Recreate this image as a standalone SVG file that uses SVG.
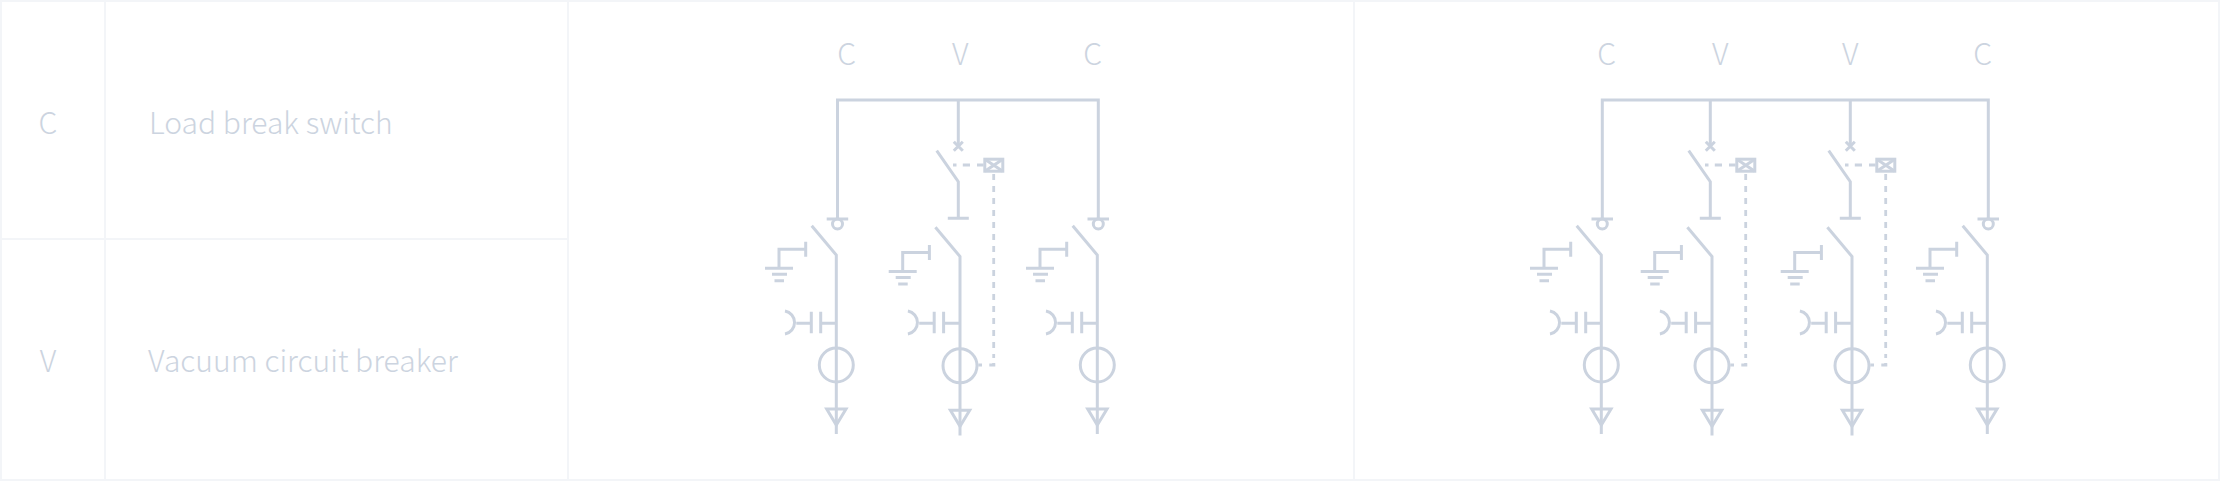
<svg xmlns="http://www.w3.org/2000/svg" width="2220" height="481" viewBox="0 0 2220 481">
<style>
.t{font-family:"Noto Sans CJK SC","Noto Sans",sans-serif;font-weight:300;font-size:30px;fill:#ccd4e0}
.m{text-anchor:middle}
.g{stroke:#f3f5f8;stroke-width:2;fill:none}
.l{stroke:#cbd3df;stroke-width:3;fill:none}
.d{stroke:#cbd3df;stroke-width:2.8;fill:none;stroke-dasharray:6 6}
</style>
<defs>
<g id="blade" class="l"><path d="M-24.6 225.7L0 255V434"/></g>
<g id="earth" class="l"><path d="M-30.6 241.7V256.7M-30.6 249.3H-57.3V268.3M-71.3 268.3H-43.3M-64.3 274.3H-49.3M-61.8 280.7H-52.3"/></g>
<g id="cap" class="l"><path d="M0 323.3H-15.6M-15.6 311.7V333.3M-25 311.7V333.3M-25 323.3H-40M-51.3 311A11.7 11.7 0 0 1 -51.3 334"/></g>
<g id="ct" class="l"><circle cx="0" cy="365" r="17"/></g>
<g id="tri" class="l"><path d="M-9.6 409H9.7L0 425Z"/></g>
<g id="term" class="l"><path d="M-10.8 219H10.7"/><circle cx="0" cy="224" r="5"/></g>
<g id="vcb" class="l"><path d="M-4.5 141.7L4.5 150.7M4.5 141.7L-4.5 150.7M-21.6 150.7L0 181.7V218.3M-10.5 218.3H10.5"/></g>
<g id="coil" class="l"><rect x="26.5" y="159.2" width="18" height="12"/><path d="M26.5 159.2L44.5 171.2M44.5 159.2L26.5 171.2"/></g>
<g id="cfeed"><use href="#blade"/><use href="#earth"/><use href="#cap"/><use href="#ct"/><use href="#tri"/></g>
<g id="vfeed"><use href="#blade" transform="translate(0 1.5)"/><use href="#earth" transform="translate(0 3.2)"/><use href="#cap" transform="translate(-0.8 0)"/><use href="#ct" transform="translate(0 0.8)"/><use href="#tri" transform="translate(0 1.3)"/></g>
<g id="vctl"><path class="l" d="M-5.3 165H-1.8M4.5 165H11.7M18.7 165H25.3M37 365H31M23.7 365H20M35.4 366.5V363"/><path class="d" d="M35.4 174V358"/></g>
</defs>
<g id="grid" class="g">
<rect x="1" y="1" width="2218" height="479"/>
<path d="M105 1V480M568 1V480M1354 1V480M1 239H568"/>
</g>
<g id="legend">
<text class="t m" x="48" y="134">C</text>
<text class="t" x="149" y="134">Load break switch</text>
<text class="t m" x="48" y="372">V</text>
<text class="t" x="148" y="372">Vacuum circuit breaker</text>
</g>
<g id="connectors">
<path class="l" d="M837.5 219V100H1098.3V219"/>
<path class="l" d="M958.3 100V146"/>
<path class="l" d="M1602.3 219V100H1988.3V219"/>
<path class="l" d="M1710.3 100V146M1850.3 100V146"/>
<use href="#vctl" transform="translate(958.3 0)"/>
<use href="#vctl" transform="translate(1710.3 0)"/>
<use href="#vctl" transform="translate(1850.3 0)"/>
</g>
<g id="a-labels">
<text class="t m" x="846.7" y="65">C</text>
<text class="t m" x="960.3" y="65">V</text>
<text class="t m" x="1092.7" y="65">C</text>
<text class="t m" x="1606.7" y="65">C</text>
<text class="t m" x="1720.3" y="65">V</text>
<text class="t m" x="1850.3" y="65">V</text>
<text class="t m" x="1982.7" y="65">C</text>
</g>
<g id="a1"><use href="#term" x="837.5"/><use href="#cfeed" x="836.3"/></g>
<g id="a2"><use href="#vcb" x="958.3"/><use href="#coil" x="958.3"/><use href="#vfeed" x="960"/></g>
<g id="a3"><use href="#term" x="1098.3"/><use href="#cfeed" x="1097.3"/></g>
<g id="b1"><use href="#term" x="1602.3"/><use href="#cfeed" x="1601.3"/></g>
<g id="b2"><use href="#vcb" x="1710.3"/><use href="#coil" x="1710.3"/><use href="#vfeed" x="1712"/></g>
<g id="b3"><use href="#vcb" x="1850.3"/><use href="#coil" x="1850.3"/><use href="#vfeed" x="1852"/></g>
<g id="b4"><use href="#term" x="1988.3"/><use href="#cfeed" x="1987.3"/></g>
</svg>
